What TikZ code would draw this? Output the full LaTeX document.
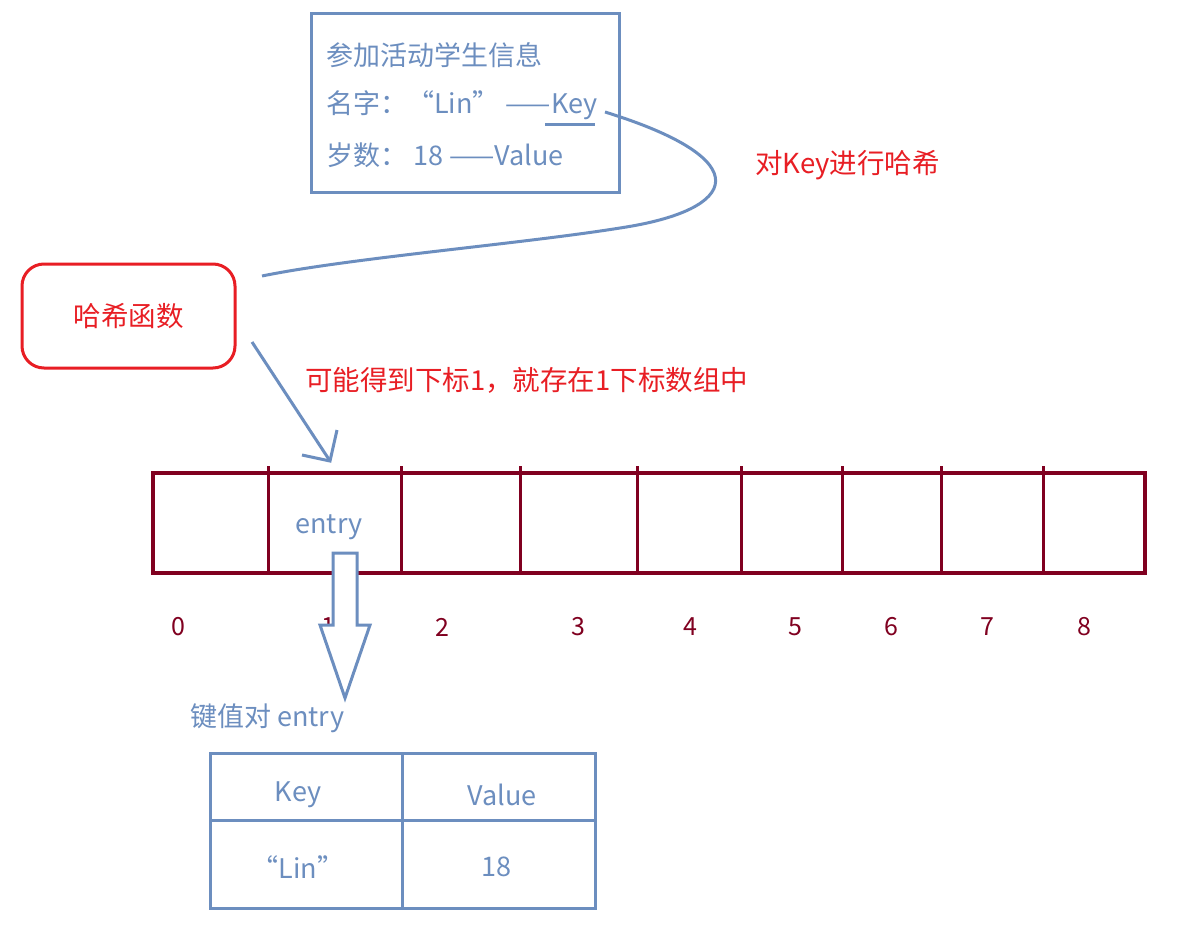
\documentclass[tikz,border=0pt]{standalone}
\usepackage{fontspec}
\setmainfont{Noto Sans CJK SC}
\begin{document}
\begin{tikzpicture}[x=1pt,y=-1pt,
  blu/.style={draw=sblue,line width=3pt},
  txtb/.style={text=sblue,font=\fontsize{27}{30}\selectfont,inner sep=0pt},
  txtr/.style={text=hred,font=\fontsize{27.5}{30}\selectfont,inner sep=0pt},
  idx/.style={text=dred,font=\fontsize{25}{28}\selectfont,inner sep=0pt}]
\definecolor{sblue}{RGB}{108,142,191}
\definecolor{hred}{RGB}{232,30,36}
\definecolor{dred}{RGB}{128,0,32}
\useasboundingbox (0,0) rectangle (1194,940);
\fill[white] (0,0) rectangle (1194,940);
% info box
\draw[blu] (311,13) rectangle (619,192);
\node[txtb,anchor=west] (t1) at (326,55) {参加活动学生信息};
\node[txtb,anchor=west] (t2) at (326,105) {名字：“Lin” ——Key};
\node[txtb,anchor=west] (t3) at (326,155) {岁数： 18 ——Value};
\coordinate (u1) at (545,124); \coordinate (u2) at (595,124);
\draw[blu] (u1) -- (u2);
\coordinate (c0) at (605,112); \coordinate (c1) at (262,276);
\draw[sblue,line width=3pt] (c0) .. controls (760,160) and (740,210) .. (620,228) .. controls (520,244) and (350,258) .. (c1);
\node[txtr,anchor=west] (l1) at (755,165) {对Key进行哈希};
% hash box
\node[draw=hred,line width=3pt,rounded corners=22pt,minimum width=213pt,minimum height=104pt,txtr] (h) at (128.5,316) {哈希函数};
\coordinate (a0) at (252,342); \coordinate (a1) at (330,461);
\draw[sblue,line width=3pt] (a0) -- (a1);
\draw[sblue,line width=3pt] (302,455) -- (a1) -- (337,430);
\node[txtr,anchor=west] (l2) at (305,380) {可能得到下标1，就存在1下标数组中};
% array
\node[draw=dred,line width=3.5pt,minimum width=992pt,minimum height=100pt,inner sep=0pt] (arr) at (649,523) {};
\foreach \x in {268,401,520,637,741,842,941,1043}
  \draw[dred,line width=3pt] (\x,466) -- (\x,573);
\node[txtb] (en) at (329,527) {entry};
\foreach \x/\n in {178/0,328/1,442/2,578/3,690/4,795/5,891/6,987/7,1084/8}
  \node[idx] (i\n) at (\x,627) {\n};
% hollow arrow
\draw[blu,fill=white,line join=miter] (333,553) -- (357,553) -- (357,625) -- (370,625) -- (345,698) -- (320,625) -- (333,625) -- cycle;
\node[txtb,anchor=west] (kv) at (190,718) {键值对 entry};
% table
\draw[blu] (210,753) rectangle (595,908);
\draw[blu] (402,753) -- (402,908);
\draw[blu] (210,820) -- (595,820);
\node[txtb] (k) at (298,795) {Key};
\node[txtb] (v) at (502,795) {Value};
\node[txtb] (kl) at (298,867) {“Lin”};
\node[txtb] (vl) at (496,867) {18};
\end{tikzpicture}
\end{document}
